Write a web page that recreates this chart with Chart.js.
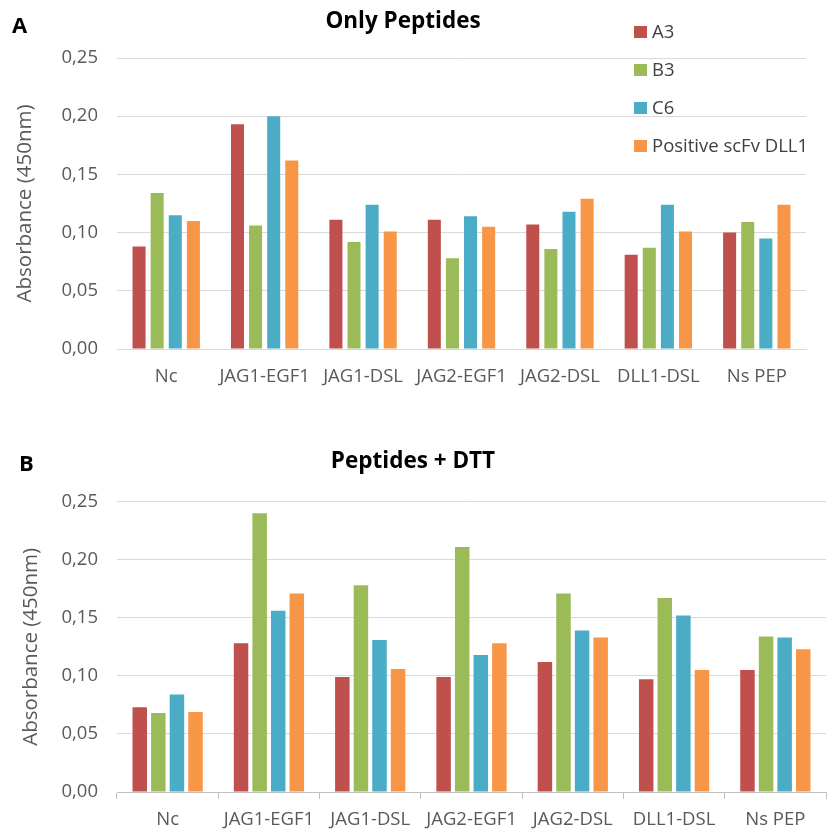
<!DOCTYPE html>
<html>
<head>
<meta charset="utf-8">
<script src="https://cdn.jsdelivr.net/npm/chart.js@4.4.1/dist/chart.umd.min.js"></script>
<style>
  html, body { margin: 0; padding: 0; background: #fff; }
  body { width: 827px; height: 829px; position: relative; overflow: hidden; font-family: "Open Sans", sans-serif; }
  .wrap { position: absolute; left: 0; width: 827px; }
  .panel { position: absolute; font-weight: bold; font-size: 22px; line-height: 26px; color: #000; font-family: "Open Sans", sans-serif; }
</style>
</head>
<body>
<div class="wrap" style="top:0;height:400px;"><canvas id="c1" width="827" height="400"></canvas></div>
<div class="wrap" style="top:400px;height:429px;"><canvas id="c2" width="827" height="429"></canvas></div>
<div class="panel" style="left:12px;top:11px;">A</div>
<div class="panel" style="left:19px;top:449px;">B</div>
<script>
const categories = ['Nc', 'JAG1-EGF1', 'JAG1-DSL', 'JAG2-EGF1', 'JAG2-DSL', 'DLL1-DSL', 'Ns PEP'];
const seriesNames = ['A3', 'B3', 'C6', 'Positive scFv DLL1'];
const seriesColors = ['#C0504D', '#9BBB59', '#4BACC6', '#F79646'];
const yTicks = [0, 0.05, 0.10, 0.15, 0.20, 0.25];

// A: Only Peptides
const onlyA3  = [0.088, 0.193, 0.111, 0.111, 0.107, 0.081, 0.100];
const onlyB3  = [0.134, 0.106, 0.092, 0.078, 0.086, 0.087, 0.109];
const onlyC6  = [0.115, 0.200, 0.124, 0.114, 0.118, 0.124, 0.095];
const onlyPos = [0.110, 0.162, 0.101, 0.105, 0.129, 0.101, 0.124];

// B: Peptides + DTT
const dttA3  = [0.073, 0.128, 0.099, 0.099, 0.112, 0.097, 0.105];
const dttB3  = [0.068, 0.240, 0.178, 0.211, 0.171, 0.167, 0.134];
const dttC6  = [0.084, 0.156, 0.131, 0.118, 0.139, 0.152, 0.133];
const dttPos = [0.069, 0.171, 0.106, 0.128, 0.133, 0.105, 0.123];

const FONT = '"Open Sans", sans-serif';
const TICK_COLOR = '#595959';

function makeDatasets(seriesValues, catPct, barPct) {
  return seriesValues.map((vals, i) => ({
    label: seriesNames[i],
    data: vals,
    backgroundColor: seriesColors[i],
    borderWidth: 0,
    categoryPercentage: catPct,
    barPercentage: barPct
  }));
}

const legendPlugin = {
  id: 'overlayLegend',
  afterDraw(chart, args, opts) {
    if (!opts || !opts.show) return;
    const ctx = chart.ctx;
    ctx.save();
    ctx.font = '18.5px ' + FONT;
    ctx.textBaseline = 'middle';
    ctx.textAlign = 'left';
    chart.data.datasets.forEach((ds, i) => {
      const y = opts.y0 + i * opts.dy;
      ctx.fillStyle = ds.backgroundColor;
      ctx.fillRect(opts.x, y - 6, 13, 12);
      ctx.fillStyle = '#404040';
      ctx.fillText(ds.label, opts.x + 18, y + 1);
    });
    ctx.restore();
  }
};

function makeChart(id, title, datasets, cfg) {
  return new Chart(document.getElementById(id), {
    type: 'bar',
    data: { labels: categories, datasets: datasets },
    plugins: [legendPlugin],
    options: {
      responsive: false,
      animation: false,
      layout: { padding: { left: 0, right: cfg.padRight, top: 0, bottom: 0 } },
      plugins: {
        legend: { display: false },
        tooltip: { enabled: false },
        title: {
          display: true,
          text: title,
          color: '#000',
          font: { family: FONT, size: 22.5, weight: 'bold' },
          padding: { top: cfg.titleTop, bottom: cfg.titleBottom }
        },
        overlayLegend: cfg.legend
      },
      scales: {
        x: {
          grid: {
            display: cfg.xTicks,
            drawOnChartArea: false,
            drawTicks: cfg.xTicks,
            tickLength: 7,
            color: '#BFBFBF',
            offset: true
          },
          border: { display: true, color: cfg.xTicks ? '#BFBFBF' : '#D9D9D9', width: 1 },
          ticks: {
            color: TICK_COLOR,
            font: { family: FONT, size: 18.5 },
            padding: cfg.xPad,
            maxRotation: 0,
            autoSkip: false
          },
          afterFit(scale) { scale.height = cfg.xHeight; }
        },
        y: {
          min: 0,
          max: 0.25,
          afterBuildTicks(scale) { scale.ticks = yTicks.map(v => ({ value: v })); },
          grid: { color: '#D9D9D9', lineWidth: 1, drawTicks: false },
          border: { display: false },
          ticks: {
            color: TICK_COLOR,
            font: { family: FONT, size: 18.5 },
            padding: 19,
            callback: (v) => v.toFixed(2).replace('.', ',')
          },
          title: {
            display: true,
            text: 'Absorbance (450nm)',
            color: TICK_COLOR,
            font: { family: FONT, size: 20.5 },
            padding: { top: cfg.yTitlePad, bottom: 0 }
          },
          afterFit(scale) { scale.width = 117; }
        }
      }
    }
  });
}

makeChart('c1', 'Only Peptides',
  makeDatasets([onlyA3, onlyB3, onlyC6, onlyPos], 0.736, 0.72),
  { padRight: 21, titleTop: 8.5, titleBottom: 22.5, xTicks: false, xPad: 17, xHeight: 51, yTitlePad: 13,
    legend: { show: true, x: 634, y0: 32, dy: 38 } });

makeChart('c2', 'Peptides + DTT',
  makeDatasets([dttA3, dttB3, dttC6, dttPos], 0.734, 0.78),
  { padRight: 1, titleTop: 48.2, titleBottom: 26.5, xTicks: true, xPad: 10, xHeight: 37, yTitlePad: 19,
    legend: { show: false } });
</script>
</body>
</html>
